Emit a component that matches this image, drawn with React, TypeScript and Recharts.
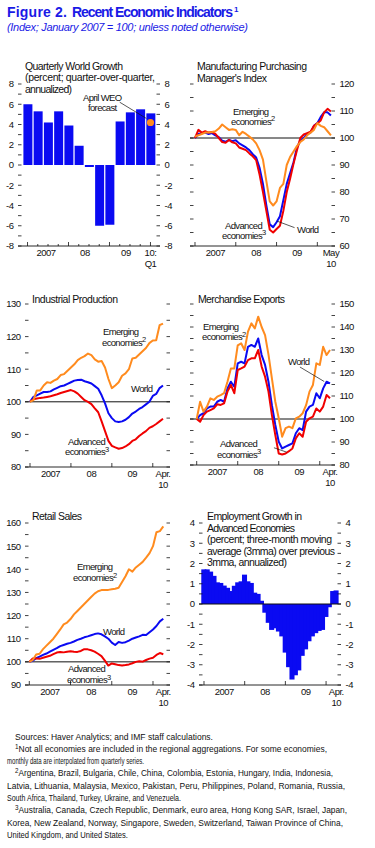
import type { ReactNode } from 'react'
import { Bar, BarChart, Line, LineChart, ReferenceDot, ReferenceLine, XAxis, YAxis } from 'recharts'

const FONT = '"Liberation Sans", Arial, sans-serif'
const INK = '#111111'
const TITLE_BLUE = '#1a1ae6'
const BLUE = '#0a0af2'
const RED = '#f00000'
const ORANGE = '#ff8b1e'

// Quarterly world growth, 2007:Q1 - 2010:Q1 (percent, q/q annualized)
const quarterlyGrowth = [6.0, 5.3, 4.2, 5.3, 3.9, 1.9, -0.2, -6.0, -5.9, 4.3, 5.2, 5.5, 5.1]
const weoForecast = { q: 12, value: 4.2 }
const growthMajor = [0, 4, 8, 12]
const growthMinor = [1, 2, 3, 5, 6, 7, 9, 10, 11]
const growthLabelAt = [1.8, 5.6, 9.6, 12]
const growthLabels = [['2007'], ['08'], ['09'], ['10:', 'Q1']]

// monthly axes (month 0 = Jan 2007)
const yearStarts = [0, 12, 24, 36]
const yearMid = [6, 18, 30]
const yearLabels = ['2007', '08', '09']

// Manufacturing PMI, Jan 2007 - May 2010
const pmiWorld = [100, 101.5, 101.8, 102, 101.5, 101.8, 101, 100.3, 99, 98.6, 99.3, 98.8, 99.2, 98, 97.3, 96.5, 95.5, 94, 92.8, 89, 83, 75, 68, 67, 68.8, 71, 77, 83, 87, 91, 96.5, 99, 100, 101.6, 102, 104.5, 105.5, 107.8, 109.5, 109.5, 108.3]
const pmiAdvanced = [100, 103, 102, 102.5, 102, 102.2, 101.5, 100, 98.5, 98.2, 99.3, 98.4, 98, 96.5, 96, 95.5, 94.3, 93.2, 91.8, 86.5, 80, 73, 66, 65, 66.3, 67.5, 73, 80, 85, 90.5, 95.5, 100, 101.3, 101.8, 102.3, 104.5, 105.4, 106.5, 109.5, 110.8, 109.8]
const pmiEmerging = [100.5, 101, 101.5, 102, 102, 102.2, 102.5, 103.5, 105, 104, 103, 103.2, 103, 101, 102.3, 101.5, 100.5, 99.5, 98, 95.5, 92, 84, 76.5, 75, 76.5, 81.5, 83, 90, 93, 95, 97, 98.5, 99.5, 101, 102, 103, 105.5, 104.5, 104, 102.5, 101]

// Industrial production, Jan 2007 - Apr 2010
const ipWorld = [100, 101.5, 102, 102.5, 103, 103, 103.2, 103.8, 104.3, 104.8, 105, 105.5, 106, 106.5, 106.7, 106.8, 106.3, 106, 105.6, 104.8, 104, 102, 99.5, 96.5, 95, 94, 93.8, 94, 94.5, 95.3, 96.4, 97, 97.8, 98.4, 99.2, 100, 101.8, 102.4, 104.2, 105]
const ipAdvanced = [100, 100.8, 101, 101.2, 101.3, 101.5, 101.7, 102, 102.3, 102.7, 103, 103.3, 103.6, 103.2, 102.5, 101.5, 100.5, 100, 99.3, 98, 96.8, 94, 91, 88, 86.5, 86, 85.6, 85.8, 86.3, 87, 88, 88.5, 89.5, 90.3, 91, 92, 92.5, 93.2, 94, 94.8]
const ipEmerging = [100, 100.5, 103.5, 103.5, 105, 106, 105.8, 106.5, 107, 108.2, 108.5, 109.5, 110.5, 111.5, 112.8, 113.5, 114, 114.8, 114.3, 113, 112.3, 112.5, 110.5, 107, 104.2, 105, 106, 108, 108.7, 110, 113.3, 113.5, 114.5, 115.5, 116.5, 118, 118.8, 118.9, 123.5, 124]

// Merchandise exports, Jan 2007 - Apr 2010
const exWorld = [100, 101.7, 102.5, 104.6, 105.4, 105.4, 107.5, 108.3, 107.5, 113.3, 116.2, 114, 124.2, 124.9, 124.2, 131.4, 132.2, 131.4, 135, 127.8, 123.5, 116.2, 106, 97.4, 90.1, 87.2, 88, 88.7, 89.4, 93.8, 96, 95.2, 103.2, 105.4, 106.1, 111.2, 109, 113.3, 116.2, 115.5]
const exAdvanced = [100, 98.8, 101.7, 103.2, 103.9, 104.6, 106.4, 106.1, 106.8, 111.9, 114.8, 111.2, 121.3, 122, 122.8, 125.6, 126.4, 126.4, 130, 122.8, 118.4, 111.9, 101.7, 93, 85, 84.6, 85, 86, 87.2, 91.6, 93.8, 92.3, 98.8, 100.3, 101, 104.6, 103.2, 105.4, 110.4, 109]
const exEmerging = [100, 107.5, 103.2, 105.4, 109, 108.3, 109.7, 110.4, 111.2, 116.2, 122, 122, 132, 132.9, 130, 138, 141.6, 139.4, 144.5, 140, 136.5, 128, 117.7, 107.5, 100.3, 92.3, 96, 96.7, 96, 100.3, 101, 102.5, 106, 111.9, 114.8, 124.2, 123.5, 131.4, 127.8, 130]

// Retail sales, Jan 2007 - Apr 2010
const rsWorld = [100, 100.5, 101.6, 102.3, 103, 103.6, 104.4, 105.2, 105.9, 106.8, 107.3, 107.8, 108.2, 108.8, 109.5, 110, 110.6, 111, 111.5, 112, 112.3, 111.9, 111, 110, 108.3, 107.3, 108.6, 108.2, 108.5, 109.2, 110, 110.5, 111, 111.7, 111.6, 112.8, 114, 115.5, 117.5, 118.6]
const rsAdvanced = [100, 101.5, 101.4, 101.3, 101.8, 102.2, 102.6, 103.3, 104, 104.3, 104.1, 104.4, 104.6, 104.4, 104.3, 104.7, 105.5, 105.4, 105, 104.4, 103.5, 102.5, 100.5, 98.4, 99.3, 99, 98.6, 98.4, 98.6, 98.9, 99.4, 100, 100.3, 100.1, 100.8, 101.4, 101.8, 103, 103.8, 103.3]
const rsEmerging = [100, 100.8, 103.2, 103.5, 105.5, 107, 108.5, 110, 112, 114, 116.2, 117, 118.5, 120.5, 122, 123.5, 125, 126.5, 128, 129.5, 130.5, 131, 131.1, 131.1, 131.4, 131.6, 132, 134.5, 137, 140, 139, 140.8, 142, 143.2, 145, 147, 150, 156, 156.5, 158.5]

// Employment growth in advanced economies, Jan 2007 - Apr 2010 (percent)
const employment = [1.71, 1.71, 1.6, 1.39, 1.07, 1.04, 0.91, 0.8, 0.64, 0.9, 1.07, 1.12, 1.45, 1.12, 1.04, 0.56, 0.5, 0.16, -0.43, -0.93, -1.28, -1.2, -1.36, -1.6, -2.4, -3.12, -3.73, -3.52, -3.28, -2.56, -2.24, -1.84, -1.6, -1.44, -1.33, -1.28, -0.64, -0.16, 0.64, 0.67]

const footnotes: { x: number; sup?: string; text: string; w: number }[] = [
  { x: 15, text: 'Sources: Haver Analytics; and IMF staff calculations.', w: 198 },
  { x: 15, sup: '1', text: 'Not all economies are included in the regional aggregations. For some economies,', w: 312 },
  { x: 7, text: 'monthly data are interpolated from quarterly series.', w: 137 },
  { x: 15, sup: '2', text: 'Argentina, Brazil, Bulgaria, Chile, China, Colombia, Estonia, Hungary, India, Indonesia,', w: 318 },
  { x: 7, text: 'Latvia, Lithuania, Malaysia, Mexico, Pakistan, Peru, Philippines, Poland, Romania, Russia,', w: 338 },
  { x: 7, text: 'South Africa, Thailand, Turkey, Ukraine, and Venezuela.', w: 174 },
  { x: 15, sup: '3', text: 'Australia, Canada, Czech Republic, Denmark, euro area, Hong Kong SAR, Israel, Japan,', w: 332 },
  { x: 7, text: 'Korea, New Zealand, Norway, Singapore, Sweden, Switzerland, Taiwan Province of China,', w: 336 },
  { x: 7, text: 'United Kingdom, and United States.', w: 121 },
]

const steps = (from: number, to: number, step: number) => {
  const out: number[] = []
  for (let v = from; v <= to + 1e-9; v += step) out.push(Math.round(v * 100) / 100)
  return out
}

const isMultiple = (v: number, every: number | null) =>
  every !== null && Math.abs(v / every - Math.round(v / every)) < 1e-6

const monthly = (w: number[], a: number[], e: number[]) => w.map((v, m) => ({ m, world: v, adv: a[m], em: e[m] }))

function YTick({ x, y, payload, side, every }: any) {
  const d = side === 'left' ? 1 : -1
  return (
    <g>
      <line x1={x} x2={x + d * 3.5} y1={y} y2={y} stroke={INK} strokeWidth={0.8} />
      {isMultiple(payload.value, every) && (
        <text
          x={x - d * 4.5}
          y={y + 3.4}
          textAnchor={side === 'left' ? 'end' : 'start'}
          fontSize={9.5}
          letterSpacing={-0.5}
          fill={INK}
          fontFamily={FONT}
        >
          {payload.value}
        </text>
      )}
    </g>
  )
}

function XTick({ x, y, payload, major, minor, labelAt, labels }: any) {
  const v = payload.value
  const i = labelAt.indexOf(v)
  return (
    <g>
      {major.includes(v) && <line x1={x} x2={x} y1={y} y2={y - 4} stroke={INK} strokeWidth={0.8} />}
      {minor.includes(v) && <line x1={x} x2={x} y1={y} y2={y - 2} stroke={INK} strokeWidth={0.8} />}
      {i >= 0 &&
        labels[i].map((t: string, k: number) => (
          <text key={k} x={x} y={y + 9.5 + k * 11.5} textAnchor="middle" fontSize={9.5} letterSpacing={-0.5} fill={INK} fontFamily={FONT}>
            {t}
          </text>
        ))}
    </g>
  )
}

// month bars touch each other in the original, so widen each a little
function SolidBar({ x, y, width, height, fill }: any) {
  const top = height < 0 ? y + height : y
  return <rect x={x - 1} y={top} width={width + 2} height={Math.abs(height)} fill={fill} />
}

function yAxes(domain: [number, number], step: number, leftW: number, rightW: number, leftEvery: number | null, rightEvery: number | null) {
  const ticks = steps(domain[0], domain[1], step)
  const common = { domain, ticks, interval: 0 as const, axisLine: false, tickLine: false, tickSize: 0, tickMargin: 0, allowDataOverflow: true }
  return [
    <YAxis key="l" yAxisId="l" orientation="left" width={leftW} {...common} tick={(p: any) => <YTick {...p} side="left" every={leftEvery} />} />,
    <YAxis key="r" yAxisId="r" orientation="right" width={rightW} {...common} tick={(p: any) => <YTick {...p} side="right" every={rightEvery} />} />,
  ]
}

function xAxis(xh: number, domain: [number, number], major: number[], minor: number[], labelAt: number[], labels: string[][], key = 'm') {
  const ticks = Array.from(new Set([...major, ...minor, ...labelAt]))
  return (
    <XAxis
      dataKey={key}
      type="number"
      domain={domain}
      ticks={ticks}
      interval={0}
      height={xh}
      tickSize={0}
      tickMargin={0}
      tickLine={false}
      allowDataOverflow
      axisLine={{ stroke: INK, strokeWidth: 0.9 }}
      tick={(p: any) => <XTick {...p} major={major} minor={minor} labelAt={labelAt} labels={labels} />}
    />
  )
}

type LinePanelProps = {
  left: number
  top: number
  leftW: number
  rightW: number
  xh: number
  yDomain: [number, number]
  leftEvery: number | null
  rightEvery: number | null
  xDomain: [number, number]
  lastAt: number
  lastLabel: string
  data: { m: number; world: number; adv: number; em: number }[]
  children?: ReactNode
}

function LinePanel(p: LinePanelProps) {
  const labelAt = [...yearMid, p.lastAt]
  const labels = [...yearLabels.map((l) => [l]), [p.lastLabel, '10']]
  const line = { yAxisId: 'l', dot: false, strokeWidth: 2, strokeLinejoin: 'round' as const, isAnimationActive: false }
  return (
    <div style={{ position: 'absolute', left: p.left, top: p.top }}>
      <LineChart width={190} height={200} data={p.data} margin={{ top: 14, right: 0, bottom: 0, left: 0 }}>
        {xAxis(p.xh, p.xDomain, yearStarts, [], labelAt, labels)}
        {yAxes(p.yDomain, 5, p.leftW, p.rightW, p.leftEvery, p.rightEvery)}
        <ReferenceLine yAxisId="l" y={100} stroke={INK} strokeWidth={1} />
        <Line {...line} dataKey="world" stroke={BLUE} />
        <Line {...line} dataKey="adv" stroke={RED} />
        <Line {...line} dataKey="em" stroke={ORANGE} />
        {p.children}
      </LineChart>
    </div>
  )
}

function GrowthPanel() {
  const data = quarterlyGrowth.map((g, i) => ({ i, g }))
  return (
    <div style={{ position: 'absolute', left: 0, top: 70 }}>
      <BarChart width={190} height={200} data={data} margin={{ top: 14, right: 0, bottom: 0, left: 0 }}>
        {xAxis(24, [-0.93, 12.93], growthMajor, growthMinor, growthLabelAt, growthLabels, 'i')}
        {yAxes([-8, 8], 1, 18, 30, 2, 2)}
        <Bar yAxisId="l" dataKey="g" fill={BLUE} barSize={9} isAnimationActive={false} />
        <ReferenceLine yAxisId="l" segment={[{ x: 9.0, y: 6.2 }, { x: 11.6, y: 4.6 }]} stroke={INK} strokeWidth={0.7} />
        <ReferenceDot yAxisId="l" x={weoForecast.q} y={weoForecast.value} r={3.6} fill={ORANGE} stroke="none" />
      </BarChart>
    </div>
  )
}

function EmploymentPanel() {
  const data = employment.map((v, m) => ({ m, v }))
  return (
    <div style={{ position: 'absolute', left: 180, top: 509 }}>
      <BarChart width={190} height={200} data={data} margin={{ top: 14, right: 0, bottom: 0, left: 0 }}>
        {xAxis(24, [-1.47, 40.4], yearStarts, [], [...yearMid, 39], [...yearLabels.map((l) => [l]), ['Apr.', '10']])}
        {yAxes([-4, 4], 0.5, 19, 29, 1, 1)}
        <Bar yAxisId="l" dataKey="v" fill={BLUE} barSize={3.4} shape={<SolidBar />} isAnimationActive={false} />
        <ReferenceLine yAxisId="l" y={0} stroke={INK} strokeWidth={1} />
      </BarChart>
    </div>
  )
}

function Label({ x, y, children, sup }: { x: number; y: number; children: string; sup?: string }) {
  return (
    <text x={x} y={y} fontSize={9.5} letterSpacing={-0.65} fill={INK}>
      {children}
      {sup && (
        <tspan dy={-3.5} fontSize={7.5} letterSpacing={0}>
          {sup}
        </tspan>
      )}
    </text>
  )
}

function Heading({ x, y, lines, widths }: { x: number; y: number; lines: string[]; widths: number[] }) {
  return (
    <>
      {lines.map((t, k) => (
        <text key={k} x={x} y={y + k * 11.5} fontSize={10.5} fill={INK} textLength={widths[k]} lengthAdjust="spacing">
          {t}
        </text>
      ))}
    </>
  )
}

function Overlay() {
  return (
    <svg width={375} height={848} style={{ position: 'absolute', left: 0, top: 0, pointerEvents: 'none' }} fontFamily={FONT}>
      <text x={7} y={17} fontSize={14} fontWeight="bold" fill={TITLE_BLUE} textLength={60} lengthAdjust="spacing">
        Figure 2.
      </text>
      <text x={72} y={17} fontSize={14} fontWeight="bold" fill={TITLE_BLUE} textLength={161} lengthAdjust="spacing">
        Recent Economic Indicators
      </text>
      <text x={234} y={12} fontSize={8} fontWeight="bold" fill={TITLE_BLUE}>
        1
      </text>
      <text x={7} y={31} fontSize={11} fontStyle="italic" fill={TITLE_BLUE} textLength={241} lengthAdjust="spacing">
        (Index; January 2007 = 100; unless noted otherwise)
      </text>

      <Heading x={25} y={69.5} lines={['Quarterly World Growth', '(percent; quarter-over-quarter,', 'annualized)']} widths={[98, 130, 47]} />
      <Heading x={197} y={70} lines={['Manufacturing Purchasing', "Manager's Index"]} widths={[110, 70]} />
      <Heading x={32} y={303} lines={['Industrial Production']} widths={[86]} />
      <Heading x={198} y={303} lines={['Merchandise Exports']} widths={[87]} />
      <Heading x={32} y={520} lines={['Retail Sales']} widths={[50]} />
      <Heading
        x={207}
        y={520}
        lines={['Employment Growth in', 'Advanced Economies', '(percent; three-month moving', 'average (3mma) over previous', '3mma, annualized)']}
        widths={[95, 88, 125, 128, 80]}
      />

      <Label x={83} y={100.5}>April WEO</Label>
      <Label x={88} y={110.5}>forecast</Label>

      <Label x={233} y={114.5}>Emerging</Label>
      <Label x={231} y={124.5} sup="2">economies</Label>
      <Label x={225} y={228.5}>Advanced</Label>
      <Label x={222} y={238.5} sup="3">economies</Label>
      <Label x={297} y={233}>World</Label>

      <Label x={103} y={335}>Emerging</Label>
      <Label x={102} y={345.5} sup="2">economies</Label>
      <Label x={131} y={392}>World</Label>
      <Label x={68} y={444.5}>Advanced</Label>
      <Label x={65} y={455} sup="3">economies</Label>

      <Label x={203} y={329.5}>Emerging</Label>
      <Label x={202} y={340} sup="2">economies</Label>
      <Label x={288} y={365}>World</Label>
      <Label x={220} y={447}>Advanced</Label>
      <Label x={217} y={457.5} sup="3">economies</Label>

      <Label x={77} y={570}>Emerging</Label>
      <Label x={73} y={581} sup="2">economies</Label>
      <Label x={103} y={634.5}>World</Label>
      <Label x={68} y={672}>Advanced</Label>
      <Label x={67} y={683} sup="3">economies</Label>

      {footnotes.map((f, k) => (
        <text key={k} x={f.x} y={739.5 + k * 12.3} fontSize={8.6} fill={INK} textLength={f.w} lengthAdjust="spacingAndGlyphs">
          {f.sup && (
            <tspan dy={-3} fontSize={6.5}>
              {f.sup}
            </tspan>
          )}
          <tspan dy={f.sup ? 3 : 0}>{f.text}</tspan>
        </text>
      ))}
    </svg>
  )
}

export default function App() {
  return (
    <div style={{ position: 'absolute', left: 0, top: 0, width: 375, height: 848, background: '#fff', fontFamily: FONT }}>
      <GrowthPanel />
      <LinePanel
        left={180}
        top={70}
        leftW={10}
        rightW={35}
        xh={24}
        yDomain={[60, 120]}
        leftEvery={null}
        rightEvery={10}
        xDomain={[-1.47, 41.2]}
        lastAt={40}
        lastLabel="May"
        data={monthly(pmiWorld, pmiAdvanced, pmiEmerging)}
      >
        <ReferenceLine yAxisId="l" segment={[{ x: 29.3, y: 66.8 }, { x: 24.2, y: 69.2 }]} stroke={INK} strokeWidth={0.7} />
      </LinePanel>
      <LinePanel
        left={0}
        top={290}
        leftW={25}
        rightW={20}
        xh={23}
        yDomain={[80, 130]}
        leftEvery={10}
        rightEvery={null}
        xDomain={[-1.47, 41.05]}
        lastAt={39}
        lastLabel="Apr."
        data={monthly(ipWorld, ipAdvanced, ipEmerging)}
      />
      <LinePanel
        left={180}
        top={290}
        leftW={10}
        rightW={35}
        xh={25}
        yDomain={[80, 150]}
        leftEvery={null}
        rightEvery={10}
        xDomain={[-1.96, 40.46]}
        lastAt={39}
        lastLabel="Apr."
        data={monthly(exWorld, exAdvanced, exEmerging)}
      >
        <ReferenceLine yAxisId="l" segment={[{ x: 30.2, y: 122.6 }, { x: 37.3, y: 116.3 }]} stroke={INK} strokeWidth={0.7} />
        <ReferenceLine yAxisId="l" segment={[{ x: 22.6, y: 87.5 }, { x: 26.3, y: 85.6 }]} stroke={INK} strokeWidth={0.7} />
      </LinePanel>
      <LinePanel
        left={0}
        top={509}
        leftW={25}
        rightW={20}
        xh={24}
        yDomain={[90, 160]}
        leftEvery={10}
        rightEvery={null}
        xDomain={[-1.25, 40.95]}
        lastAt={39}
        lastLabel="Apr."
        data={monthly(rsWorld, rsAdvanced, rsEmerging)}
      />
      <EmploymentPanel />
      <Overlay />
    </div>
  )
}
